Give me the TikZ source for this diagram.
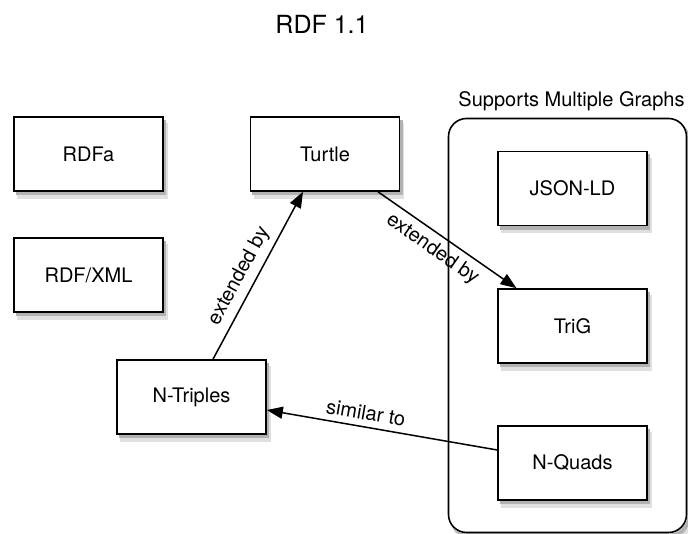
\documentclass[tikz,border=0pt]{standalone}
\usepackage{fontspec}
\setmainfont{TeX Gyre Heros}
\usetikzlibrary{arrows.meta,positioning,backgrounds}

\begin{document}
\begin{tikzpicture}[x=1pt,y=1pt,
    format/.style={draw,line width=1.6pt,fill=white,minimum width=149pt,minimum height=74pt,
      font=\fontsize{20}{24}\selectfont},
    group/.style={draw,line width=1.6pt,rounded corners=18pt,
      minimum width=238pt,minimum height=414pt},
    shadowfar/.style={fill=black!12},
    shadownear/.style={fill=black!30},
    rel/.style={line width=1.5pt,-{Triangle[length=16pt,width=12pt]}},
    rellabel/.style={font=\fontsize{20}{24}\selectfont,sloped,inner sep=2pt}]
    \useasboundingbox (0,0) rectangle (688,534);
    \node (title) at (322,510) {\fontsize{25}{30}\selectfont RDF 1.1};
    % graph formats
    \node[group] (multi) at (567.5,208.5) {};
    \node[font=\fontsize{20}{24}\selectfont] (multilabel) at (571.5,433) {Supports Multiple Graphs};
    \node[format] (jsonld) at (572.5,345.5) {JSON-LD};
    \node[format] (trig) at (572.5,208) {TriG};
    \node[format] (nquads) at (572.5,71) {N-Quads};
    % triple formats
    \node[format] (rdfa) at (88.5,380) {RDFa};
    \node[format] (rdfxml) at (88.5,259) {RDF/XML};
    \node[format] (turtle) at (325,380) {Turtle};
    \node[format] (ntriples) at (191.5,137) {N-Triples};
    % relations
    \draw[rel] ([xshift=21.5pt]ntriples.north) -- node[rellabel,pos=0.45,above=4pt] {extended by} ([xshift=-22pt]turtle.south);
    \draw[rel] ([xshift=53pt]turtle.south) -- node[rellabel,pos=0.46,below=4pt] {extended by} ([xshift=-56pt]trig.north);
    \draw[rel] ([yshift=13pt]nquads.west) -- node[rellabel,pos=0.58,above=4pt] {similar to} ([yshift=-13pt]ntriples.east);
    % shadows
    \begin{scope}[on background layer]
      \fill[shadowfar,rounded corners=18pt] ([shift={(4pt,-7pt)}]multi.south west) rectangle ([shift={(4pt,-7pt)}]multi.north east);
      \fill[shadownear,rounded corners=18pt] ([shift={(2.5pt,-3.5pt)}]multi.south west) rectangle ([shift={(2.5pt,-3.5pt)}]multi.north east);
      \fill[white,rounded corners=18pt] (multi.south west) rectangle (multi.north east);
      \foreach \n in {jsonld,trig,nquads,rdfa,rdfxml,turtle,ntriples} {
        \fill[shadowfar] ([shift={(4pt,-7pt)}]\n.south west) rectangle ([shift={(4pt,-7pt)}]\n.north east);
        \fill[shadownear] ([shift={(2.5pt,-3.5pt)}]\n.south west) rectangle ([shift={(2.5pt,-3.5pt)}]\n.north east);
      }
    \end{scope}
\end{tikzpicture}
\end{document}
